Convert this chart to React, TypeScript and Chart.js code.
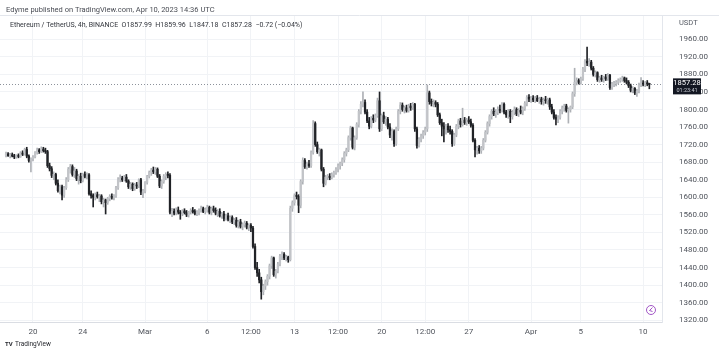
import { useEffect, useRef } from "react";
import { Chart, registerables } from "chart.js";

Chart.register(...registerables);

const FONT = "Roboto, 'Liberation Sans', Arial, sans-serif";

// x-axis tick positions (candle index, 4h candles starting Feb 17 20:00) and labels
const tickIndices = [13, 37, 67, 97, 118, 139, 160, 181, 202, 223, 253, 277, 307];
const tickLabels = ["20", "24", "Mar", "6", "12:00", "13", "12:00", "20", "12:00", "27", "Apr", "5", "10"];
const priceTicks = [1320, 1360, 1400, 1440, 1480, 1520, 1560, 1600, 1640, 1680, 1720, 1760, 1800, 1840, 1880, 1920, 1960];

const headerLine1 = "Edyme published on TradingView.com, Apr 10, 2023 14:36 UTC";
const headerLine2 = "Ethereum / TetherUS, 4h, BINANCE  O1857.99  H1859.96  L1847.18  C1857.28  \u22120.72 (\u22120.04%)";
const countdown = "01:23:41";

const opens = [
  1696,1699,1695,1697,1694,1692,1695,1693,1701,1698,
  1709,1694,1684,1688,1692,1702,1708,1704,1710,1706,
  1704,1672,1665,1650,1652,1632,1615,1624,1605,1622,
  1640,1664,1670,1652,1660,1642,1648,1638,1652,1648,
  1651,1608,1604,1600,1606,1601,1603,1590,1594,1588,
  1597,1602,1600,1604,1622,1640,1644,1640,1646,1637,
  1624,1630,1620,1628,1626,1640,1612,1614,1634,1648,
  1657,1662,1658,1664,1648,1626,1636,1648,1652,1650,
  1566,1568,1564,1571,1566,1563,1569,1565,1560,1566,
  1570,1567,1563,1566,1571,1574,1568,1572,1577,1566,
  1574,1570,1564,1568,1558,1562,1552,1558,1550,1554,
  1544,1548,1536,1544,1534,1538,1541,1532,1536,1530,
  1488,1440,1428,1412,1385,1398,1408,1420,1444,1462,
  1424,1432,1448,1466,1470,1462,1464,1458,1575,1588,
  1604,1602,1582,1636,1684,1670,1676,1672,1702,1768,
  1720,1704,1708,1664,1632,1646,1648,1645,1652,1656,
  1664,1672,1678,1686,1700,1708,1736,1758,1714,1736,
  1766,1796,1812,1816,1794,1774,1762,1780,1776,1786,
  1820,1756,1786,1772,1778,1760,1742,1750,1722,1756,
  1796,1810,1800,1804,1798,1808,1804,1812,1756,1718,
  1732,1740,1748,1756,1838,1818,1814,1816,1812,1788,
  1770,1762,1756,1762,1754,1750,1722,1742,1762,1774,
  1766,1776,1770,1776,1772,1764,1730,1708,1712,1706,
  1712,1730,1748,1768,1784,1796,1790,1794,1800,1798,
  1812,1794,1788,1796,1784,1794,1800,1790,1798,1794,
  1802,1814,1828,1824,1826,1822,1826,1820,1824,1818,
  1822,1820,1822,1806,1794,1782,1778,1782,1796,1804,
  1808,1798,1800,1806,1836,1862,1866,1862,1870,1892,
  1910,1906,1908,1894,1880,1884,1868,1872,1868,1874,
  1870,1878,1850,1858,1860,1862,1866,1869,1872,1866,
  1862,1854,1844,1848,1838,1842,1856,1860,1858,1861,
  1857.99,
];

const highs = [
  1703,1702,1700,1701,1698,1697,1699,1704,1706,1712,
  1714,1697,1690,1695,1704,1712,1711,1715,1714,1712,
  1707,1678,1670,1658,1655,1640,1628,1628,1625,1645,
  1668,1675,1674,1668,1664,1652,1655,1655,1658,1656,
  1654,1615,1608,1610,1612,1607,1606,1598,1596,1600,
  1606,1608,1606,1625,1645,1651,1648,1650,1652,1640,
  1634,1633,1632,1634,1642,1643,1618,1636,1650,1660,
  1666,1669,1668,1667,1652,1640,1652,1656,1658,1654,
  1575,1574,1576,1578,1570,1572,1574,1570,1568,1574,
  1577,1572,1570,1574,1580,1578,1576,1582,1580,1578,
  1580,1576,1572,1574,1566,1568,1562,1564,1558,1558,
  1552,1554,1548,1550,1542,1546,1545,1540,1540,1534,
  1494,1452,1436,1418,1402,1412,1424,1448,1466,1464,
  1436,1452,1470,1476,1474,1468,1466,1580,1592,1608,
  1612,1606,1640,1690,1688,1680,1684,1706,1775,1772,
  1726,1712,1710,1668,1650,1652,1654,1656,1660,1668,
  1676,1680,1690,1704,1712,1740,1762,1760,1740,1770,
  1800,1818,1840,1822,1800,1782,1784,1788,1790,1826,
  1840,1790,1794,1784,1782,1768,1756,1754,1760,1800,
  1816,1815,1808,1810,1812,1814,1816,1814,1760,1736,
  1744,1752,1760,1856,1842,1824,1822,1820,1816,1792,
  1778,1770,1766,1768,1762,1754,1746,1766,1778,1780,
  1803,1782,1780,1784,1778,1768,1734,1716,1718,1716,
  1734,1752,1772,1788,1800,1804,1800,1806,1810,1816,
  1815,1798,1800,1800,1798,1806,1804,1802,1808,1806,
  1818,1832,1834,1830,1832,1830,1832,1828,1828,1826,
  1830,1826,1826,1812,1800,1788,1786,1800,1808,1812,
  1812,1804,1808,1840,1894,1872,1870,1874,1896,1914,
  1942,1916,1912,1898,1888,1886,1876,1878,1876,1880,
  1882,1880,1862,1864,1866,1870,1872,1876,1874,1872,
  1866,1858,1852,1850,1846,1860,1873,1866,1864,1866,
  1859.96,
];

const lows = [
  1692,1693,1690,1692,1688,1689,1690,1691,1695,1696,
  1690,1680,1658,1683,1690,1698,1700,1702,1703,1700,
  1668,1660,1645,1640,1628,1612,1608,1594,1600,1618,
  1636,1655,1648,1645,1638,1630,1633,1635,1644,1642,
  1605,1598,1578,1594,1598,1590,1585,1578,1562,1584,
  1592,1596,1594,1600,1618,1635,1636,1637,1634,1620,
  1618,1615,1616,1620,1622,1606,1599,1610,1630,1644,
  1650,1654,1652,1645,1622,1620,1632,1640,1644,1562,
  1556,1560,1560,1562,1550,1558,1562,1556,1555,1562,
  1564,1560,1558,1560,1566,1565,1562,1566,1562,1560,
  1566,1560,1556,1555,1552,1546,1548,1546,1542,1540,
  1538,1532,1530,1530,1526,1532,1528,1524,1522,1484,
  1436,1420,1405,1368,1378,1390,1400,1414,1438,1420,
  1416,1428,1444,1458,1458,1455,1452,1455,1568,1582,
  1596,1565,1576,1630,1666,1664,1668,1668,1698,1716,
  1700,1694,1660,1624,1628,1640,1640,1642,1646,1652,
  1658,1664,1672,1680,1694,1704,1730,1710,1708,1732,
  1760,1790,1806,1790,1770,1756,1758,1770,1772,1782,
  1750,1752,1768,1764,1756,1736,1730,1716,1718,1752,
  1790,1796,1792,1794,1794,1798,1800,1750,1712,1714,
  1726,1734,1742,1750,1812,1808,1806,1806,1784,1766,
  1740,1726,1744,1748,1744,1716,1718,1738,1756,1760,
  1762,1766,1764,1768,1760,1726,1692,1698,1700,1700,
  1708,1726,1744,1762,1778,1786,1782,1788,1792,1794,
  1790,1782,1780,1770,1778,1788,1786,1784,1790,1788,
  1798,1808,1818,1816,1818,1816,1818,1814,1812,1810,
  1814,1812,1800,1790,1778,1765,1770,1778,1790,1796,
  1794,1769,1794,1802,1830,1856,1858,1858,1866,1886,
  1900,1898,1890,1876,1874,1864,1862,1864,1862,1866,
  1866,1846,1846,1852,1854,1858,1862,1864,1862,1858,
  1850,1840,1838,1834,1830,1838,1852,1854,1852,1854,
  1847.18,
];

const closes = [
  1699,1695,1697,1694,1692,1695,1693,1701,1698,1709,
  1694,1684,1688,1692,1702,1708,1704,1710,1706,1704,
  1672,1665,1650,1652,1632,1615,1624,1605,1622,1640,
  1664,1670,1652,1660,1642,1648,1638,1652,1648,1651,
  1608,1604,1600,1606,1601,1603,1590,1594,1588,1597,
  1602,1600,1604,1622,1640,1644,1640,1646,1637,1624,
  1630,1620,1628,1626,1640,1612,1614,1634,1648,1657,
  1662,1658,1664,1648,1626,1636,1648,1652,1650,1566,
  1568,1564,1571,1566,1563,1569,1565,1560,1566,1570,
  1567,1563,1566,1571,1574,1568,1572,1577,1566,1574,
  1570,1564,1568,1558,1562,1552,1558,1550,1554,1544,
  1548,1536,1544,1534,1538,1541,1532,1536,1530,1488,
  1440,1428,1412,1385,1398,1408,1420,1444,1462,1424,
  1432,1448,1466,1470,1462,1464,1458,1575,1588,1604,
  1602,1582,1636,1684,1670,1676,1672,1702,1768,1720,
  1704,1708,1664,1632,1646,1648,1645,1652,1656,1664,
  1672,1678,1686,1700,1708,1736,1758,1714,1736,1766,
  1796,1812,1816,1794,1774,1762,1780,1776,1786,1820,
  1756,1786,1772,1778,1760,1742,1750,1722,1756,1796,
  1810,1800,1804,1798,1808,1804,1812,1756,1718,1732,
  1740,1748,1756,1838,1818,1814,1816,1812,1788,1770,
  1762,1756,1762,1754,1750,1722,1742,1762,1774,1766,
  1776,1770,1776,1772,1764,1730,1708,1712,1706,1712,
  1730,1748,1768,1784,1796,1790,1794,1800,1798,1812,
  1794,1788,1796,1784,1794,1800,1790,1798,1794,1802,
  1814,1828,1824,1826,1822,1826,1820,1824,1818,1822,
  1820,1822,1806,1794,1782,1778,1782,1796,1804,1808,
  1798,1800,1806,1836,1862,1866,1862,1870,1892,1910,
  1906,1908,1894,1880,1884,1868,1872,1868,1874,1870,
  1878,1850,1858,1860,1862,1866,1869,1872,1866,1862,
  1854,1844,1848,1838,1842,1856,1860,1858,1861,1857.99,
  1857.28,
];

const UP_BODY = "#c2c4c8";
const UP_WICK = "#aeb1b6";
const DOWN = "#202226";

export default function App() {
  const ref = useRef<HTMLCanvasElement>(null);

  useEffect(() => {
    const canvas = ref.current;
    if (!canvas) return;
    const n = closes.length;
    const wickData: any[] = [];
    const bodyData: any[] = [];
    for (let i = 0; i < n; i++) {
      wickData.push({ x: i, y: [lows[i], highs[i]] });
      bodyData.push({ x: i, y: [opens[i], closes[i]] });
    }
    const isUp = (i: number) => closes[i] >= opens[i];
    const last = n - 1;

    const decor = {
      id: "decor",
      beforeDraw(chart: any) {
        const c = chart.ctx;
        c.save();
        c.fillStyle = "#ffffff";
        c.fillRect(0, 0, chart.width, chart.height);
        c.restore();
      },
      beforeDatasetsDraw(chart: any) {
        const c = chart.ctx;
        const a = chart.chartArea;
        const y = Math.round(chart.scales.y.getPixelForValue(closes[last])) + 0.5;
        c.save();
        c.strokeStyle = "#8d929b";
        c.lineWidth = 1;
        c.setLineDash([1, 2]);
        c.beginPath();
        c.moveTo(a.left, y);
        c.lineTo(a.right, y);
        c.stroke();
        c.restore();
      },
      afterDraw(chart: any) {
        const c = chart.ctx;
        c.save();
        // top border of pane
        c.strokeStyle = "#e3e6ec";
        c.lineWidth = 1;
        c.beginPath();
        c.moveTo(0, 15.5);
        c.lineTo(chart.width, 15.5);
        c.stroke();

        c.textBaseline = "middle";
        c.textAlign = "left";
        c.fillStyle = "#4a4d55";
        c.font = `7.5px ${FONT}`;
        c.fillText(headerLine1, 6, 10);

        c.fillStyle = "#33363d";
        c.font = `7px ${FONT}`;
        c.fillText(headerLine2, 10, 25);

        c.fillStyle = "#555a63";
        c.font = `7.5px ${FONT}`;
        c.fillText("USDT", 679, 23);

        // price tag
        const py = chart.scales.y.getPixelForValue(closes[last]);
        c.fillStyle = "#131722";
        c.fillRect(673, py - 6, 28, 16);
        c.fillStyle = "#ffffff";
        c.textAlign = "center";
        c.font = `7.5px ${FONT}`;
        c.fillText(closes[last].toFixed(2), 687, py - 1);
        c.fillStyle = "#c8ccd4";
        c.font = `5.5px ${FONT}`;
        c.fillText(countdown, 687, py + 6);

        // purple icon
        c.strokeStyle = "#a256c6";
        c.lineWidth = 1;
        c.beginPath();
        c.arc(651, 310, 4.5, 0, Math.PI * 2);
        c.stroke();
        c.beginPath();
        c.moveTo(652.5, 307.5);
        c.lineTo(649.5, 310.5);
        c.lineTo(652.5, 311.5);
        c.stroke();

        // TradingView footer
        c.textAlign = "left";
        c.fillStyle = "#26282e";
        c.font = `bold 6px ${FONT}`;
        c.fillText("TV", 5, 344);
        c.font = `6.5px ${FONT}`;
        c.fillText("TradingView", 15, 344);
        c.restore();
      },
    };

    const chart = new Chart(canvas, {
      type: "bar",
      data: {
        datasets: [
          {
            label: "wick",
            data: wickData,
            backgroundColor: (ctx: any) => (isUp(ctx.dataIndex) ? UP_WICK : DOWN),
            barThickness: 1,
            grouped: false,
            order: 2,
          } as any,
          {
            label: "body",
            data: bodyData,
            backgroundColor: (ctx: any) => (isUp(ctx.dataIndex) ? UP_BODY : DOWN),
            barThickness: 1.6,
            minBarLength: 1,
            grouped: false,
            order: 1,
          } as any,
        ],
      },
      options: {
        animation: false,
        responsive: false,
        devicePixelRatio: 1,
        layout: { padding: { top: 16, bottom: 9, left: 0, right: 0 } },
        plugins: { legend: { display: false }, tooltip: { enabled: false } },
        scales: {
          x: {
            type: "linear",
            min: -2.9,
            max: 316.1,
            offset: false,
            grid: { offset: false, color: "#f1f3f6", drawTicks: false },
            border: { display: true, color: "#dadde3" },
            ticks: {
              autoSkip: false,
              maxRotation: 0,
              padding: 5,
              color: "#50545c",
              font: { size: 8, family: FONT },
              callback: (_v: any, idx: number) => tickLabels[idx] ?? "",
            },
            afterBuildTicks: (s: any) => {
              s.ticks = tickIndices.map((v) => ({ value: v }));
            },
            afterFit: (s: any) => {
              s.height = 17;
            },
          },
          y: {
            type: "linear",
            position: "right",
            min: 1316,
            max: 2013,
            grid: { color: "#f1f3f6", drawTicks: true, tickLength: 14, tickColor: "rgba(0,0,0,0)" },
            border: { display: true, color: "#e3e6ec" },
            ticks: {
              padding: 3,
              color: "#50545c",
              font: { size: 8, family: FONT },
              callback: (v: any) => Number(v).toFixed(2),
            },
            afterBuildTicks: (s: any) => {
              s.ticks = priceTicks.map((v) => ({ value: v }));
            },
            afterFit: (s: any) => {
              s.width = 57;
            },
          },
        },
      } as any,
      plugins: [decor],
    });
    return () => chart.destroy();
  }, []);

  return (
    <div style={{ position: "absolute", left: 0, top: 0, width: 719, height: 348, background: "#fff" }}>
      <canvas ref={ref} width={719} height={348} style={{ display: "block" }} />
    </div>
  );
}
